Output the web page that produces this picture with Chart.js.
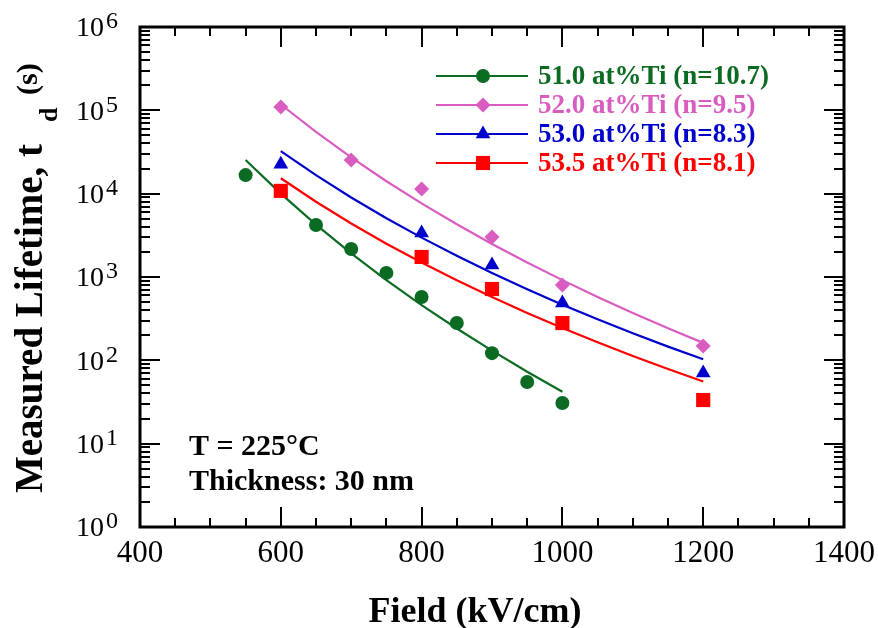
<!DOCTYPE html>
<html>
<head>
<meta charset="utf-8">
<script src="https://cdn.jsdelivr.net/npm/chart.js@4.4.1/dist/chart.umd.min.js"></script>
<style>
  html, body { margin: 0; padding: 0; background: #fff; }
</style>
</head>
<body>
<canvas id="lifetimeChart" width="878" height="628"></canvas>
<script>
// measured points (Field in kV/cm, lifetime in s)
const field51 = [550, 650, 700, 750, 800, 850, 900, 950, 1000];
const life51 = [16700, 4200, 2170, 1120, 575, 280, 122, 55, 30.8];
const field52 = [600, 700, 800, 900, 1000, 1200];
const life52 = [110000, 25400, 11400, 3020, 800, 149];
const field53 = [600, 800, 900, 1000, 1200];
const life53 = [22500, 3370, 1390, 488, 70.5];
const field535 = [600, 800, 900, 1000, 1200];
const life535 = [10800, 1740, 718, 280, 33.4];

// fitted curves, every 50 kV/cm
const fitField51 = [550, 600, 650, 700, 750, 800, 850, 900, 950, 1000];
const fit51 = [25400, 10000, 4250, 1920, 918, 460, 241, 131, 73, 42];
const fitField = [600, 650, 700, 750, 800, 850, 900, 950, 1000, 1050, 1100, 1150, 1200];
const fit52 = [117500, 55000, 27200, 14100, 7640, 4300, 2490, 1490, 917, 577, 371, 243, 162];
const fit53 = [32400, 16700, 9000, 5080, 2970, 1800, 1120, 714, 466, 311, 211, 146, 103];
const fit535 = [15300, 8000, 4390, 2510, 1490, 912, 574, 370, 244, 165, 113, 78.7, 55.8];

const seriesLabels = [
  "51.0 at%Ti (n=10.7)",
  "52.0 at%Ti (n=9.5)",
  "53.0 at%Ti (n=8.3)",
  "53.5 at%Ti (n=8.1)",
];
const seriesColors = ["#0b6b22", "#d95cc0", "#0000cc", "#ff0000"];
const seriesMarkers = ["circle", "rectRot", "triangle", "rect"];
const markerSizes = [7, 7.5, 8.5, 10];

// axis ticks
const xTicks = [400, 600, 800, 1000, 1200, 1400];
const yExps = [0, 1, 2, 3, 4, 5, 6];

const SERIF = '"Liberation Serif", "Times New Roman", serif';

function pts(xs, ys) {
  return xs.map((x, i) => ({ x: x, y: ys[i] }));
}

const markerSets = [
  [field51, life51],
  [field52, life52],
  [field53, life53],
  [field535, life535],
].map(([xs, ys], i) => ({
  label: seriesLabels[i],
  data: pts(xs, ys),
  showLine: false,
  pointStyle: seriesMarkers[i],
  pointRadius: markerSizes[i],
  pointHoverRadius: markerSizes[i],
  backgroundColor: seriesColors[i],
  borderColor: seriesColors[i],
  pointBorderWidth: 0,
}));

const fitSets = [
  [fitField51, fit51],
  [fitField, fit52],
  [fitField, fit53],
  [fitField, fit535],
].map(([xs, ys], i) => ({
  label: seriesLabels[i] + " fit",
  data: pts(xs, ys),
  showLine: true,
  pointRadius: 0,
  borderColor: seriesColors[i],
  borderWidth: 2.2,
  tension: 0,
}));

function drawMarker(ctx, style, x, y, r) {
  ctx.beginPath();
  if (style === "circle") {
    ctx.arc(x, y, r, 0, Math.PI * 2);
  } else if (style === "rectRot") {
    ctx.moveTo(x - r, y); ctx.lineTo(x, y - r); ctx.lineTo(x + r, y); ctx.lineTo(x, y + r);
    ctx.closePath();
  } else if (style === "triangle") {
    ctx.moveTo(x, y - r);
    ctx.lineTo(x + r * Math.sin(Math.PI * 2 / 3), y - r * Math.cos(Math.PI * 2 / 3));
    ctx.lineTo(x - r * Math.sin(Math.PI * 2 / 3), y - r * Math.cos(Math.PI * 2 / 3));
    ctx.closePath();
  } else {
    const s = r * Math.SQRT1_2;
    ctx.rect(x - s, y - s, 2 * s, 2 * s);
  }
  ctx.fill();
}

// frame, inward ticks, tick labels, titles, legend and note
const paperPlugin = {
  id: "paperAxes",
  afterDraw(chart) {
    const ctx = chart.ctx;
    const { left, right, top, bottom } = chart.chartArea;
    const xs = chart.scales.x;
    const ys = chart.scales.y;
    ctx.save();
    ctx.strokeStyle = "#000";
    ctx.fillStyle = "#000";
    ctx.lineWidth = 2;
    const seg = (x1, y1, x2, y2) => {
      ctx.beginPath(); ctx.moveTo(x1, y1); ctx.lineTo(x2, y2); ctx.stroke();
    };
    // x ticks every 50, long at labelled values
    for (let v = xTicks[0]; v <= xTicks[xTicks.length - 1]; v += 50) {
      const px = Math.round(xs.getPixelForValue(v));
      const len = xTicks.includes(v) ? 20 : 9;
      seg(px, bottom, px, bottom - len);
      seg(px, top, px, top + len);
    }
    // y ticks: decades long, 2..9 short
    yExps.forEach((e) => {
      for (let m = 1; m <= 9; m++) {
        if (e === yExps[yExps.length - 1] && m > 1) break;
        const py = Math.round(ys.getPixelForValue(m * Math.pow(10, e)));
        const len = m === 1 ? 20 : 10;
        seg(left, py, left + len, py);
        seg(right, py, right - len, py);
      }
    });
    ctx.lineWidth = 3;
    ctx.strokeRect(left, top, right - left, bottom - top);

    // x tick labels
    ctx.font = "31px " + SERIF;
    ctx.textAlign = "center";
    ctx.textBaseline = "middle";
    xTicks.forEach((v) => {
      ctx.fillText(String(v), xs.getPixelForValue(v), bottom + 27);
    });

    // y tick labels 10^n
    ctx.textBaseline = "middle";
    yExps.forEach((e) => {
      const py = ys.getPixelForValue(Math.pow(10, e));
      ctx.font = "24px " + SERIF;
      ctx.textAlign = "right";
      const supW = ctx.measureText(String(e)).width;
      ctx.fillText(String(e), 118, py - 5);
      ctx.font = "28px " + SERIF;
      ctx.fillText("10", 118 - supW - 2, py + 2);
    });

    // x title
    ctx.font = "bold 36px " + SERIF;
    ctx.textAlign = "center";
    ctx.textBaseline = "alphabetic";
    ctx.fillText("Field (kV/cm)", 475, 622);

    // y title with subscript
    ctx.textAlign = "left";
    ctx.save();
    ctx.translate(42, 493);
    ctx.rotate(-Math.PI / 2);
    ctx.font = "bold 39px " + SERIF;
    ctx.fillText("Measured Lifetime, t", 0, 0);
    ctx.restore();
    ctx.save();
    ctx.translate(57, 122);
    ctx.rotate(-Math.PI / 2);
    ctx.font = "bold 26px " + SERIF;
    ctx.fillText("d", 0, 0);
    ctx.restore();
    ctx.save();
    ctx.translate(37, 95);
    ctx.rotate(-Math.PI / 2);
    ctx.font = "bold 30px " + SERIF;
    ctx.fillText("(s)", 0, 0);
    ctx.restore();

    // legend
    const rowY = [76, 105, 134, 163];
    ctx.font = "bold 27px " + SERIF;
    ctx.textBaseline = "middle";
    seriesLabels.forEach((lab, i) => {
      ctx.strokeStyle = seriesColors[i];
      ctx.fillStyle = seriesColors[i];
      ctx.lineWidth = 2.2;
      seg(436, rowY[i], 528, rowY[i]);
      drawMarker(ctx, seriesMarkers[i], 483, rowY[i], markerSizes[i]);
      ctx.fillText(lab, 538, rowY[i] + 1);
    });

    // note
    ctx.fillStyle = "#000";
    ctx.font = "bold 30px " + SERIF;
    ctx.textBaseline = "alphabetic";
    ctx.fillText("T = 225\u00B0C", 189, 455);
    ctx.fillText("Thickness: 30 nm", 189, 490);
    ctx.restore();
  },
};

new Chart(document.getElementById("lifetimeChart").getContext("2d"), {
  type: "scatter",
  data: {
    datasets: markerSets.concat(fitSets),
  },
  options: {
    responsive: false,
    animation: false,
    devicePixelRatio: 1,
    layout: {
      padding: { left: 140, right: 34, top: 27, bottom: 101 },
    },
    plugins: {
      legend: { display: false },
      tooltip: { enabled: false },
    },
    scales: {
      x: { type: "linear", min: 400, max: 1400, display: false },
      y: { type: "logarithmic", min: 1, max: 1e6, display: false },
    },
  },
  plugins: [paperPlugin],
});
</script>
</body>
</html>
